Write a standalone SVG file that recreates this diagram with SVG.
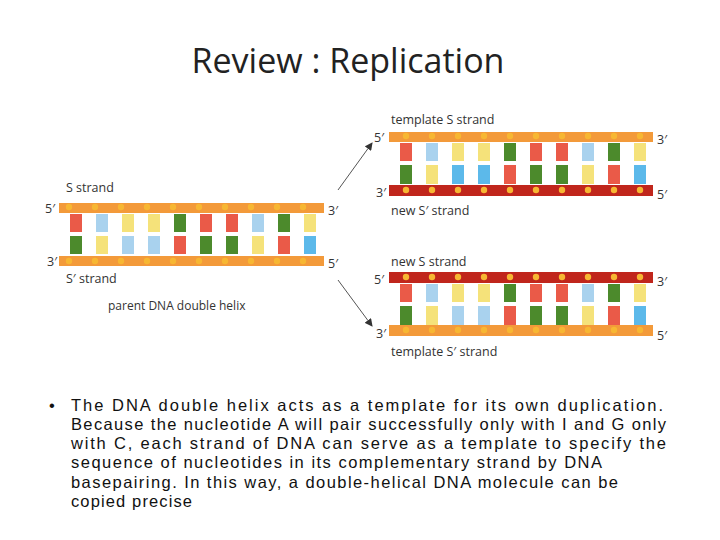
<svg xmlns="http://www.w3.org/2000/svg" width="720" height="540" viewBox="0 0 720 540">
<style>
text{font-family:"Open Sans","Liberation Sans",sans-serif;fill:#222}
.lb{font-size:12.5px;fill:#333}
.pr{font-size:12px;fill:#333}
.body{font-size:16.5px;fill:#111;font-family:"Liberation Sans",Arial,sans-serif}
.o{fill:#f39a3a}.r{fill:#c0261c}.d{fill:#f7b733}
.R{fill:#ea5a48}.G{fill:#4c8a2c}.Y{fill:#f5e27a}.B{fill:#5cb9ea}.S{fill:#a9d2ee}
.ln{stroke:#555;stroke-width:1}
</style>
<defs>
<marker id="ah" markerWidth="8" markerHeight="8" refX="7" refY="4" orient="auto" markerUnits="userSpaceOnUse"><path d="M0,0 L8,4 L0,8 Z" fill="#333"/></marker>
<g id="dots"><circle cx="14" cy="0" r="3.2" class="d"/><circle cx="40" cy="0" r="3.2" class="d"/><circle cx="66" cy="0" r="3.2" class="d"/><circle cx="92" cy="0" r="3.2" class="d"/><circle cx="118" cy="0" r="3.2" class="d"/><circle cx="144" cy="0" r="3.2" class="d"/><circle cx="170" cy="0" r="3.2" class="d"/><circle cx="196" cy="0" r="3.2" class="d"/><circle cx="222" cy="0" r="3.2" class="d"/><circle cx="248" cy="0" r="3.2" class="d"/></g>
</defs>
<text x="348" y="73" font-size="34" text-anchor="middle" font-family="Calibri,'Liberation Sans',sans-serif">Review : Replication</text>

<g id="parent">
<rect x="59" y="203" width="265" height="10" class="o"/>
<rect x="59" y="256" width="265" height="10" class="o"/>
<use href="#dots" x="55" y="207"/><use href="#dots" x="55" y="261"/>
<g transform="translate(70,214)">
<rect x="0" y="0" width="12" height="18" class="R"/><rect x="0" y="22" width="12" height="18" class="G"/>
<rect x="26" y="0" width="12" height="18" class="S"/><rect x="26" y="22" width="12" height="18" class="Y"/>
<rect x="52" y="0" width="12" height="18" class="Y"/><rect x="52" y="22" width="12" height="18" class="S"/>
<rect x="78" y="0" width="12" height="18" class="Y"/><rect x="78" y="22" width="12" height="18" class="S"/>
<rect x="104" y="0" width="12" height="18" class="G"/><rect x="104" y="22" width="12" height="18" class="R"/>
<rect x="130" y="0" width="12" height="18" class="R"/><rect x="130" y="22" width="12" height="18" class="G"/>
<rect x="156" y="0" width="12" height="18" class="R"/><rect x="156" y="22" width="12" height="18" class="G"/>
<rect x="182" y="0" width="12" height="18" class="S"/><rect x="182" y="22" width="12" height="18" class="Y"/>
<rect x="208" y="0" width="12" height="18" class="G"/><rect x="208" y="22" width="12" height="18" class="R"/>
<rect x="234" y="0" width="12" height="18" class="Y"/><rect x="234" y="22" width="12" height="18" class="B"/>
</g>
<text x="66" y="192" class="lb">S strand</text>
<text x="45" y="213" class="lb">5′</text><text x="328" y="215" class="lb">3′</text>
<text x="47" y="266" class="lb">3′</text><text x="328" y="268" class="lb">5′</text>
<text x="66" y="283" class="lb">S′ strand</text>
<text x="108" y="310" class="pr">parent DNA double helix</text>
</g>

<g id="daughter1">
<rect x="389" y="132" width="264" height="10" class="o"/>
<rect x="389" y="185" width="264" height="11" class="r"/>
<use href="#dots" x="392" y="136"/><use href="#dots" x="392" y="190"/>
<g transform="translate(400,143)">
<rect x="0" y="0" width="12" height="18" class="R"/><rect x="0" y="22" width="12" height="19" class="G"/>
<rect x="26" y="0" width="12" height="18" class="S"/><rect x="26" y="22" width="12" height="19" class="Y"/>
<rect x="52" y="0" width="12" height="18" class="Y"/><rect x="52" y="22" width="12" height="19" class="B"/>
<rect x="78" y="0" width="12" height="18" class="Y"/><rect x="78" y="22" width="12" height="19" class="B"/>
<rect x="104" y="0" width="12" height="18" class="G"/><rect x="104" y="22" width="12" height="19" class="R"/>
<rect x="130" y="0" width="12" height="18" class="R"/><rect x="130" y="22" width="12" height="19" class="G"/>
<rect x="156" y="0" width="12" height="18" class="R"/><rect x="156" y="22" width="12" height="19" class="G"/>
<rect x="182" y="0" width="12" height="18" class="S"/><rect x="182" y="22" width="12" height="19" class="Y"/>
<rect x="208" y="0" width="12" height="18" class="G"/><rect x="208" y="22" width="12" height="19" class="R"/>
<rect x="234" y="0" width="12" height="18" class="Y"/><rect x="234" y="22" width="12" height="19" class="B"/>
</g>
<text x="391" y="124" class="lb">template S strand</text>
<text x="374" y="142" class="lb">5′</text><text x="657" y="144" class="lb">3′</text>
<text x="376" y="197" class="lb">3′</text><text x="657" y="199" class="lb">5′</text>
<text x="391" y="215" class="lb">new S′ strand</text>
</g>

<g id="daughter2">
<rect x="389" y="272" width="264" height="11" class="r"/>
<rect x="389" y="325" width="264" height="11" class="o"/>
<use href="#dots" x="392" y="277"/><use href="#dots" x="392" y="330"/>
<g transform="translate(400,284)">
<rect x="0" y="0" width="12" height="18" class="R"/><rect x="0" y="22" width="12" height="19" class="G"/>
<rect x="26" y="0" width="12" height="18" class="S"/><rect x="26" y="22" width="12" height="19" class="Y"/>
<rect x="52" y="0" width="12" height="18" class="Y"/><rect x="52" y="22" width="12" height="19" class="S"/>
<rect x="78" y="0" width="12" height="18" class="Y"/><rect x="78" y="22" width="12" height="19" class="S"/>
<rect x="104" y="0" width="12" height="18" class="G"/><rect x="104" y="22" width="12" height="19" class="R"/>
<rect x="130" y="0" width="12" height="18" class="R"/><rect x="130" y="22" width="12" height="19" class="G"/>
<rect x="156" y="0" width="12" height="18" class="R"/><rect x="156" y="22" width="12" height="19" class="G"/>
<rect x="182" y="0" width="12" height="18" class="S"/><rect x="182" y="22" width="12" height="19" class="Y"/>
<rect x="208" y="0" width="12" height="18" class="G"/><rect x="208" y="22" width="12" height="19" class="R"/>
<rect x="234" y="0" width="12" height="18" class="Y"/><rect x="234" y="22" width="12" height="19" class="B"/>
</g>
<text x="391" y="266" class="lb">new S strand</text>
<text x="374" y="284" class="lb">5′</text><text x="657" y="286" class="lb">3′</text>
<text x="376" y="338" class="lb">3′</text><text x="657" y="340" class="lb">5′</text>
<text x="391" y="356" class="lb">template S′ strand</text>
</g>

<g id="connectors">
<line x1="338" y1="190" x2="372" y2="143" class="ln" marker-end="url(#ah)"/>
<line x1="338" y1="280" x2="372" y2="326" class="ln" marker-end="url(#ah)"/>
</g>

<g id="text">
<text x="49" y="411" class="body">•</text>
<text x="71" y="411" class="body" textLength="592" lengthAdjust="spacing">The  DNA  double  helix  acts  as  a  template  for  its  own duplication.</text>
<text x="71" y="430" class="body" textLength="595" lengthAdjust="spacing">Because  the  nucleotide  A will  pair  successfully  only  with  I and G  only</text>
<text x="71" y="449" class="body" textLength="595" lengthAdjust="spacing">with C,  each  strand  of DNA  can  serve  as  a  template  to specify the</text>
<text x="71" y="468" class="body" textLength="531" lengthAdjust="spacing">sequence  of nucleotides  in  its  complementary  strand  by  DNA</text>
<text x="71" y="488" class="body" textLength="547" lengthAdjust="spacing">basepairing.  In  this way,  a  double-helical  DNA  molecule  can  be</text>
<text x="71" y="507" class="body" textLength="121" lengthAdjust="spacing">copied  precise</text>
</g>
</svg>
